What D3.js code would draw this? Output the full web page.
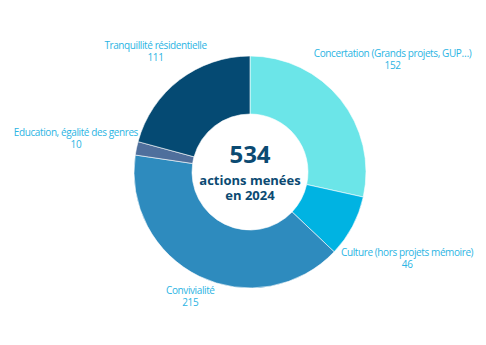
<!DOCTYPE html>
<html>
<head>
<meta charset="utf-8">
<script src="https://cdn.jsdelivr.net/npm/d3@7"></script>
<style>
  html, body { margin: 0; padding: 0; background: #ffffff; }
  svg { display: block; font-family: "Open Sans", sans-serif; }
</style>
</head>
<body>
<svg class="chart"></svg>
<script>
'use strict';

var CHART_WIDTH = 486;
var CHART_HEIGHT = 345;
var CENTER = { x: 250, y: 172 };
var OUTER_RADIUS = 116;
var INNER_RADIUS = 58;

// data
var categories = [
    "Concertation (Grands projets, GUP…)",
    "Culture (hors projets mémoire)",
    "Convivialité",
    "Education, égalité des genres",
    "Tranquillité résidentielle"
];
var values = [152, 46, 215, 10, 111];
var sliceColors = ["#6be5e8", "#00b3e2", "#2e8bbe", "#4f6f9c", "#054a73"];
var centerLines = ["actions menées", "en 2024"];

var total = d3.sum(values);

var chart = d3.select('.chart')
    .attr("width", CHART_WIDTH)
    .attr("height", CHART_HEIGHT);

var g = chart.append("g")
    .attr("transform", "translate(" + CENTER.x + "," + CENTER.y + ")");

var pie = d3.pie()
    .sort(null)
    .value(function (d) { return d.value; });

var arc = d3.arc()
    .innerRadius(INNER_RADIUS)
    .outerRadius(OUTER_RADIUS);

var rows = categories.map(function (c, i) {
    return { name: c, value: values[i], color: sliceColors[i] };
});

var arcs = pie(rows);

// slices
g.selectAll("path.slice")
    .data(arcs)
    .enter()
    .append("path")
    .attr("class", "slice")
    .attr("d", arc)
    .attr("fill", function (d) { return d.data.color; })
    .attr("stroke", "#ffffff")
    .attr("stroke-width", 0.6);

// labels outside, pushed out along the mid angle so the box clears the ring
var labelGap = -2;
var lineHeight = 12;
var label = g.selectAll("g.label")
    .data(arcs)
    .enter()
    .append("g")
    .attr("class", "label");

label.append("text")
    .attr("text-anchor", "middle")
    .attr("fill", "#2bb4e3")
    .attr("font-size", "10px")
    .attr("letter-spacing", "-0.4px")
    .each(function (d) {
        var t = d3.select(this);
        t.append("tspan").attr("x", 0).attr("y", 0).text(d.data.name);
        t.append("tspan").attr("x", 0).attr("y", lineHeight).text(d.data.value);
    });

label.attr("transform", function (d) {
    var box = this.getBBox();
    var h = lineHeight * 2;
    var mid = (d.startAngle + d.endAngle) / 2;
    var s = Math.sin(mid), c = Math.cos(mid);
    var dist = OUTER_RADIUS + labelGap + Math.abs(s) * box.width / 2 + Math.abs(c) * h / 2;
    var cx = s * dist, cy = -c * dist;
    var dx = cx - (box.x + box.width / 2);
    return "translate(" + dx + "," + cy + ")";
});

// center text
g.append("text")
    .attr("text-anchor", "middle")
    .attr("y", -9)
    .attr("fill", "#0b4a72")
    .attr("font-weight", "bold")
    .attr("font-size", "24px")
    .text(total);

g.selectAll("text.sub")
    .data(centerLines)
    .enter()
    .append("text")
    .attr("class", "sub")
    .attr("text-anchor", "middle")
    .attr("y", function (d, i) { return 13 + i * 15; })
    .attr("fill", "#0b4a72")
    .attr("font-weight", "bold")
    .attr("font-size", "13px")
    .text(function (d) { return d; });
</script>
</body>
</html>
